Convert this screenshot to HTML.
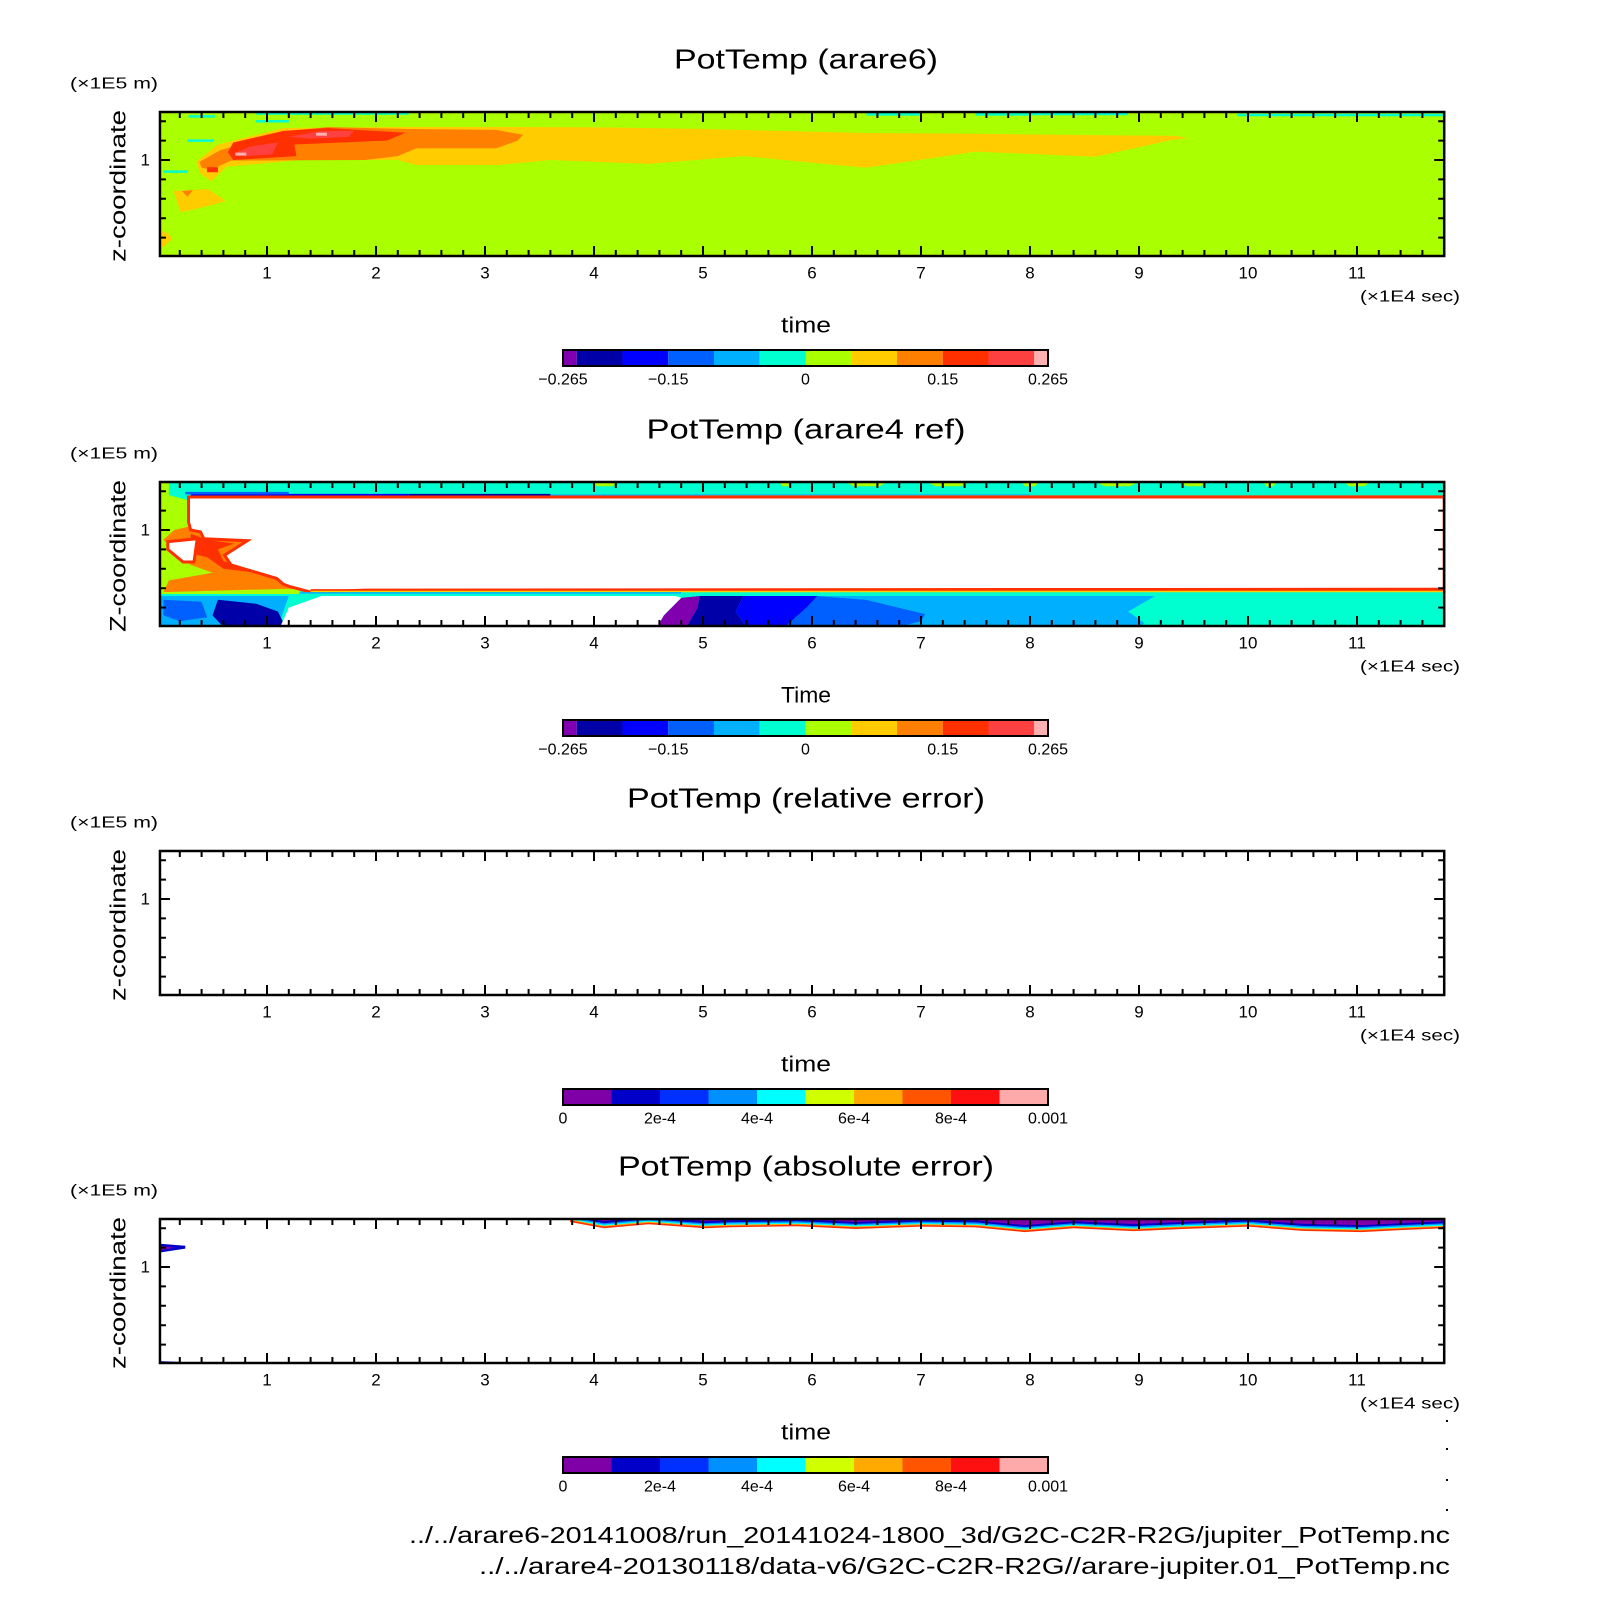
<!DOCTYPE html>
<html><head><meta charset="utf-8"><title>PotTemp comparison</title>
<style>html,body{margin:0;padding:0;background:#fff}svg{display:block}text{font-family:"Liberation Sans",sans-serif;fill:#000}</style>
</head><body>
<svg id="fig" width="1604" height="1604" viewBox="0 0 1604 1604" xmlns="http://www.w3.org/2000/svg"></svg>
<script>
// ---- axis data ----
const xTicks = [1,2,3,4,5,6,7,8,9,10,11];
const xRange = [0.018, 11.8];
const zRange = [0.5, 1.247];
const panelTops = [112, 482, 851, 1219];
const titles = ["PotTemp (arare6)","PotTemp (arare4 ref)","PotTemp (relative error)","PotTemp (absolute error)"];
const titleWidths = [264, 319, 358, 376];
const yLabels = ["z-coordinate","Z-coordinate","z-coordinate","z-coordinate"];
const xLabels = ["time","Time","time","time"];
// ---- colorbar data ----
const cbLevelsA = [-0.265,-0.25,-0.2,-0.15,-0.1,-0.05,0,0.05,0.1,0.15,0.2,0.25,0.265];
const cbColorsA = ["#8000b0","#0000a8","#0000ff","#0060ff","#00b0ff","#00ffd0","#aaff00","#ffcc00","#ff8000","#ff3000","#ff4040","#ffb0b0"];
const cbTicksA = [-0.265,-0.15,0,0.15,0.265];
const cbTickLabelsA = ["\u22120.265","\u22120.15","0","0.15","0.265"];
const cbLevelsB = [0,1e-4,2e-4,3e-4,4e-4,5e-4,6e-4,7e-4,8e-4,9e-4,1e-3];
const cbColorsB = ["#8000a8","#0000c8","#0030ff","#0090ff","#00ffff","#d0ff00","#ffaa00","#ff5500","#ff1010","#ffaaaa"];
const cbTicksB = [0,2e-4,4e-4,6e-4,8e-4,1e-3];
const cbTickLabelsB = ["0","2e-4","4e-4","6e-4","8e-4","0.001"];
// ---- panel 1 contour regions [t, z] ----
const p1Background = "#aaff00";
const p1Yellow = [[0.35,0.99],[0.54,1.077],[0.69,1.1],[1.15,1.165],[2.2,1.17],[3.1,1.17],[3.96,1.169],[5,1.16],[6.49,1.139],[7.5,1.135],[9.34,1.124],[9.45,1.112],[9.3,1.103],[8.6,1.017],[7.5,1.043],[6.49,0.96],[5.37,1.02],[4.5,0.98],[3.6,1.0],[3.12,0.974],[2.37,0.974],[2.2,1.0],[1.3,1.0],[0.63,0.965],[0.49,0.89],[0.39,0.93]];
const p1Orange = [[0.38,0.99],[0.57,1.05],[0.84,1.093],[1.2,1.15],[1.56,1.17],[2.27,1.16],[3.1,1.155],[3.35,1.13],[3.3,1.1],[3.1,1.06],[2.37,1.06],[2.2,1.02],[1.9,1.0],[0.67,0.997],[0.49,0.95],[0.4,0.96]];
const p1Red = [[0.64,1.04],[0.69,1.09],[1.15,1.15],[1.56,1.165],[2.27,1.14],[2.1,1.1],[1.25,1.08],[1.27,1.02],[0.69,1.0]];
const p1Red2 = [[0.7,1.035],[0.85,1.07],[1.1,1.09],[1.05,1.03],[0.8,1.02]];
const p1Red3 = [[1.2,1.12],[1.5,1.15],[1.8,1.15],[1.75,1.12],[1.4,1.11]];
const p1Pinks = [[0.76,1.03],[1.5,1.133]];
const p1YellowLow = [[0.14,0.84],[0.46,0.85],[0.62,0.79],[0.51,0.77],[0.21,0.73]];
const p1OrangeLow = [[0.22,0.84],[0.32,0.845],[0.27,0.81]];
const p1YellowLeft = [[0.018,0.64],[0.1,0.62],[0.13,0.595],[0.05,0.55],[0.018,0.55]];
const p1CyanLines = [[0.9,2.3,1.24],[0.28,0.52,1.225],[0.9,1.2,1.2],[0.27,0.51,1.1],[0.05,0.27,0.94],[6.5,7.0,1.235],[7.5,8.0,1.235],[8.0,8.9,1.237],[9.9,11.8,1.232]];
// ---- panel 2 contour regions ----
const p2Background = "#00ffd0";
const p2LeftGreen = [[0.018,1.247],[0.1,1.247],[0.1,1.18],[0.3,1.15],[0.6,1.0],[1.3,0.74],[1.3,0.67],[0.018,0.67]];
const p2LeftOrange = [[0.3,1.02],[0.5,0.96],[0.85,0.95],[0.75,0.9],[1.0,0.8],[1.3,0.73],[1.4,0.7],[0.05,0.68],[0.1,0.74],[0.5,0.78],[0.3,0.82],[0.05,0.95],[0.15,1.0]];
const p2LeftRed = [[0.3,0.98],[0.45,0.95],[0.7,0.93],[0.55,0.9],[0.6,0.84],[0.9,0.78],[0.6,0.8],[0.45,0.86],[0.3,0.88]];
const p2LowerLeftBlue = [[0.018,0.66],[1.2,0.66],[1.1,0.5],[0.018,0.5]];
const p2LowerLeftDark = [[0.55,0.64],[0.9,0.62],[1.1,0.58],[1.17,0.5],[0.6,0.5],[0.5,0.56]];
const p2LowerLeftMid = [[0.05,0.64],[0.4,0.63],[0.45,0.55],[0.2,0.53],[0.05,0.56]];
const p2White = [[0.28,1.144],[0.28,1.17],[11.8,1.17],[11.8,0.695],[1.9,0.69],[1.4,0.68],[1.2,0.71],[1.15,0.72],[1.09,0.75],[0.91,0.78],[0.67,0.82],[0.61,0.87],[0.82,0.945],[0.42,0.955],[0.39,0.99],[0.3,1.0],[0.28,1.04]];
const p2Hole = [[0.09,0.94],[0.36,0.955],[0.33,0.835],[0.23,0.835],[0.09,0.9]];
const p2WhiteLow = [[1.12,0.5],[1.2,0.6],[1.5,0.66],[4.75,0.66],[4.8,0.65],[4.64,0.56],[4.58,0.5]];
const p2Purple = [[4.58,0.5],[4.64,0.56],[4.8,0.65],[4.97,0.66],[4.95,0.6],[4.85,0.5]];
const p2DarkBlue = [[4.85,0.5],[4.95,0.6],[4.97,0.66],[5.37,0.66],[5.3,0.58],[5.4,0.5]];
const p2Blue = [[5.4,0.5],[5.3,0.58],[5.37,0.66],[6.05,0.66],[5.95,0.6],[5.75,0.5]];
const p2MidBlue = [[5.75,0.5],[5.95,0.6],[6.05,0.66],[6.5,0.64],[7.04,0.567],[7.0,0.53],[6.8,0.5]];
const p2LightBlue = [[6.8,0.5],[7.0,0.53],[7.04,0.567],[6.5,0.64],[6.05,0.66],[9.15,0.66],[8.9,0.58],[9.05,0.52],[9.0,0.5]];
const p2TopStreaks = [[0.3,2.3,1.18,"#0000ff"],[0.25,1.2,1.19,"#0060ff"],[2.3,3.6,1.18,"#0000a8"],[3.6,8.0,1.177,"#00b0ff"],[0.3,1.8,1.153,"#0000ff"],[1.8,2.6,1.153,"#00b0ff"],[2.6,3.6,1.153,"#ff3000"],[8.0,11.8,1.172,"#ff3000"],[5.0,8.0,1.172,"#ffcc00"]];
const p2TopBlobs = [[4.1,0.12],[5.76,0.06],[6.5,0.2],[7.25,0.2],[8.0,0.08],[8.8,0.2],[9.5,0.12],[11.0,0.12],[10.2,0.06]];
// ---- panel 4 absolute error band ----
const absT = [3.78,4.09,4.5,5.02,5.25,5.87,6.4,7.0,7.5,7.95,8.4,8.95,9.4,10.0,10.5,11.04,11.4,11.8];
const absBottom = [1.232,1.2,1.22,1.2,1.205,1.21,1.196,1.208,1.204,1.18,1.2,1.185,1.196,1.208,1.186,1.18,1.19,1.2];
const absLeftBlob = [[0.018,1.12],[0.25,1.11],[0.25,1.095],[0.018,1.075]];
const absLeftBottom = [[0.018,0.515],[0.25,0.51],[0.25,0.5],[0.018,0.5]];

const NS="http://www.w3.org/2000/svg";
const svg=document.getElementById('fig');
function mk(tag,attrs,parent){const e=document.createElementNS(NS,tag);for(const k in attrs)e.setAttribute(k,attrs[k]);(parent||svg).appendChild(e);return e;}
const X0=158, XU=109;
function X(t){return X0+XU*t;}
function Y(z,top){return top+48-(z-1)*194;}
const PL=X(xRange[0]), PR=X(xRange[1]);
function poly(pts,top,fill,g,name){const p=mk('polygon',{points:pts.map(q=>X(q[0]).toFixed(1)+','+Y(q[1],top).toFixed(1)).join(' '),fill:fill},g);


return p;}
function hline(t0,t1,z,top,col,w,g,name){const l=mk('line',{x1:X(t0),x2:X(t1),y1:Y(z,top),y2:Y(z,top),stroke:col,'stroke-width':w},g);

}
function txt(s,x,y,size,attrs,name){const t=mk('text',Object.assign({x:x,y:y,'font-size':size,'dominant-baseline':'central'},attrs||{}));t.textContent=s;


return t;}

function panel(i){
 const top=panelTops[i], bot=top+144;
 const g=mk('g',{});
 
 
 const cid='clip'+i;
 const cp=mk('clipPath',{id:cid},g);mk('rect',{x:PL,y:top,width:PR-PL,height:144},cp);
 const f=mk('g',{'clip-path':'url(#'+cid+')'},g);
 
 
 if(i===0){
  mk('rect',{x:PL,y:top,width:PR-PL,height:144,fill:p1Background},f);
  poly(p1Yellow,top,"#ffcc00",f,'contour-yellow');
  poly(p1Orange,top,"#ff8000",f,'contour-orange');
  poly(p1Red,top,"#ff3000",f,'contour-red');
  poly(p1Red2,top,"#ff4040",f,'contour-lightred');
  poly(p1Red3,top,"#ff4040",f,'contour-lightred');
  poly(p1YellowLow,top,"#ffcc00",f,'contour-yellow-low');
  poly(p1OrangeLow,top,"#ff8000",f,'contour-orange-low');
  poly(p1YellowLeft,top,"#ffcc00",f,'contour-yellow-left');
  hline(0.45,0.55,0.95,top,"#ff3000",5,f,'contour-red-dot');
  p1Pinks.forEach(p=>hline(p[0]-0.05,p[0]+0.05,p[1],top,"#ffb0b0",3,f,'contour-pink'));
  p1CyanLines.forEach(c=>hline(c[0],c[1],c[2],top,"#00ffd0",2.5,f,'contour-cyan-line'));
 } else if(i===1){
  mk('rect',{x:PL,y:top,width:PR-PL,height:144,fill:p2Background},f);
  poly(p2LeftGreen,top,"#aaff00",f,'contour-green-left');
  poly(p2LowerLeftBlue,top,"#00b0ff",f,'contour-lightblue-left');
  poly(p2LowerLeftMid,top,"#0060ff",f,'contour-midblue-left');
  poly(p2LowerLeftDark,top,"#0000a8",f,'contour-darkblue-left');
  poly(p2LeftOrange,top,"#ff8000",f,'contour-orange-left');
  poly(p2LeftRed,top,"#ff3000",f,'contour-red-left');
  p2TopBlobs.forEach(b=>poly([[b[0]-b[1],1.25],[b[0]+b[1],1.25],[b[0]+b[1]*0.6,1.225],[b[0]-b[1]*0.6,1.225]],top,"#aaff00",f,'contour-green-blob'));
  p2TopStreaks.forEach(s=>hline(s[0],s[1],s[2],top,s[3],2.5,f,'contour-streak'));
  poly(p2Purple,top,"#8000b0",f,'contour-purple');
  poly(p2DarkBlue,top,"#0000a8",f,'contour-darkblue');
  poly(p2Blue,top,"#0000ff",f,'contour-blue');
  poly(p2MidBlue,top,"#0060ff",f,'contour-midblue');
  poly(p2LightBlue,top,"#00b0ff",f,'contour-lightblue');
  const w=poly(p2White,top,"#fff",f,'missing-region');
  w.setAttribute('stroke','#ff3000');w.setAttribute('stroke-width','3');
  const h=poly(p2Hole,top,"#fff",f,'missing-hole');
  h.setAttribute('stroke','#ff3000');h.setAttribute('stroke-width','3');
  poly(p2WhiteLow,top,"#fff",f,'missing-region-low');
  hline(1.4,11.8,0.69,top,"#ff3000",2,f,'rainbow-red');
  hline(1.4,11.8,0.683,top,"#ffcc00",1.5,f,'rainbow-yellow');
  hline(1.3,4.8,0.676,top,"#00b0ff",1.5,f,'rainbow-blue');
 } else if(i===3){
  const up=absT.map(t=>[t,1.26]);
  const layers=[[0,"#ff3000"],[0.008,"#ffaa00"],[0.013,"#00ffff"],[0.019,"#0090ff"],[0.026,"#0000c8"],[0.036,"#8000a8"]];
  layers.forEach(L=>{
   const pts=up.concat(absT.map((t,k)=>[t,absBottom[k]+L[0]]).reverse());
   poly(pts,top,L[1],f,'abs-error-band');
  });
  poly(absLeftBlob,top,"#0000c8",f,'abs-error-left-blob');
  poly([[0.018,1.11],[0.15,1.1],[0.018,1.085]],top,"#8000a8",f,'abs-error-left-core');
  poly(absLeftBottom,top,"#0000c8",f,'abs-error-left-bottom');
 }
 // frame & ticks
 const fr=mk('rect',{x:PL,y:top,width:PR-PL,height:144,fill:'none',stroke:'#000','stroke-width':2.5},g);
 
 
 let d='';
 for(let k=1;k<=59;k++){const t=k*0.2;if(t>xRange[1])break;const x=X(t);const major=Math.abs(t-Math.round(t))<1e-6;const L=major?10:6;d+=`M${x} ${top}v${L}M${x} ${bot}v${-L}`;}
 for(let k=5;k<=12;k++){const z=k/10;const y=Y(z,top);if(y<top||y>bot)continue;const L=(k===10)?10:6;d+=`M${PL} ${y}h${L}M${PR} ${y}h${-L}`;}
 const tk=mk('path',{d:d,stroke:'#000','stroke-width':2,fill:'none'},g);
 
 
 xTicks.forEach(v=>txt(String(v),X(v),top+161,17,{'text-anchor':'middle'},'x-tick-label'));
 txt("1",150,Y(1,top),17,{'text-anchor':'end'},'y-tick-label');
 txt("(\u00d71E4 sec)",1410,top+185,16,{'text-anchor':'middle',textLength:100,lengthAdjust:'spacingAndGlyphs'},'x-axis-unit');
 txt("(\u00d71E5 m)",114,top-28,16,{'text-anchor':'middle',textLength:88,lengthAdjust:'spacingAndGlyphs'},'y-axis-unit');
 txt(titles[i],806,top-53,28,{'text-anchor':'middle',textLength:titleWidths[i],lengthAdjust:'spacingAndGlyphs'},'plot-title');
 txt(xLabels[i],806,top+213,22,{'text-anchor':'middle',textLength:50,lengthAdjust:'spacingAndGlyphs'},'x-axis-title');
 txt(yLabels[i],0,0,22,{'text-anchor':'middle',textLength:152,lengthAdjust:'spacingAndGlyphs',transform:`translate(118 ${top+74}) rotate(-90)`},'y-axis-title');
 // colorbar
 const cbTop=top+238, cx0=563, cx1=1048;
 const A=(i<2);
 const lev=A?cbLevelsA:cbLevelsB, cols=A?cbColorsA:cbColorsB, ticks=A?cbTicksA:cbTicksB, tl=A?cbTickLabelsA:cbTickLabelsB;
 const vmin=lev[0], vmax=lev[lev.length-1];
 const CX=v=>cx0+(v-vmin)/(vmax-vmin)*(cx1-cx0);
 const cb=mk('g',{});
 
 
 cols.forEach((c,k)=>{const r=mk('rect',{x:CX(lev[k]),y:cbTop,width:CX(lev[k+1])-CX(lev[k]),height:16,fill:c},cb);
  
  });
 mk('rect',{x:cx0,y:cbTop,width:cx1-cx0,height:16,fill:'none',stroke:'#000','stroke-width':2},cb);
 ticks.forEach((v,k)=>txt(tl[k],CX(v),cbTop+30,16,{'text-anchor':'middle'},'colorbar-label'));
}
for(let i=0;i<4;i++)panel(i);
txt("../../arare6-20141008/run_20141024-1800_3d/G2C-C2R-R2G/jupiter_PotTemp.nc",1450,1535,23,{'text-anchor':'end',textLength:1041,lengthAdjust:'spacingAndGlyphs'},'source-file-1');
txt("../../arare4-20130118/data-v6/G2C-C2R-R2G//arare-jupiter.01_PotTemp.nc",1450,1566,23,{'text-anchor':'end',textLength:971,lengthAdjust:'spacingAndGlyphs'},'source-file-2');
[1421,1449,1480,1510].forEach(y=>{const c=mk('rect',{x:1446,y:y-1,width:2,height:2,fill:'#000'});
 
 });
</script>
</body></html>
